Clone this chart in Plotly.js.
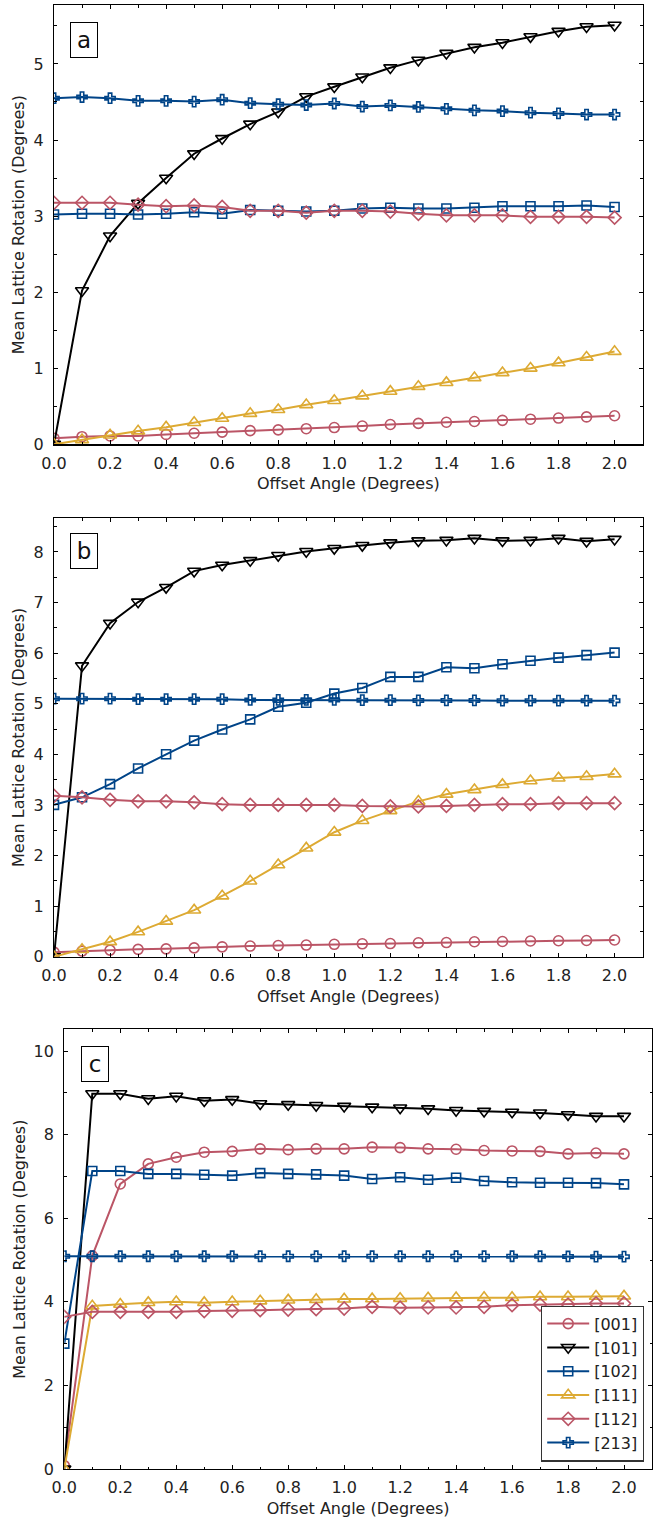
<!DOCTYPE html>
<html><head><meta charset="utf-8">
<script src="https://cdn.plot.ly/plotly-3.0.1.min.js"></script>
<style>html,body{margin:0;padding:0;background:#fff}</style>
</head><body><div id="chart" style="width:653px;height:1521px"></div>
<script>
const offsetAngle = [0.0,0.1,0.2,0.3,0.4,0.5,0.6,0.7,0.8,0.9,1.0,1.1,1.2,1.3,1.4,1.5,1.6,1.7,1.8,1.9,2.0];
const seriesNames = ['[001]','[101]','[102]','[111]','[112]','[213]'];
const panelLabels = ['a','b','c'];

// Panel a
const a001 = [0.08,0.10,0.11,0.11,0.13,0.145,0.16,0.18,0.19,0.205,0.22,0.24,0.26,0.275,0.29,0.30,0.315,0.33,0.345,0.36,0.375];
const a101 = [0,2.02,2.74,3.17,3.50,3.82,4.02,4.21,4.37,4.57,4.70,4.83,4.95,5.05,5.14,5.22,5.28,5.36,5.43,5.49,5.51];
const a102 = [3.02,3.03,3.03,3.02,3.03,3.05,3.03,3.08,3.07,3.06,3.07,3.10,3.11,3.10,3.10,3.11,3.13,3.13,3.13,3.14,3.12];
const a111 = [0,0.06,0.12,0.175,0.225,0.285,0.34,0.405,0.455,0.52,0.575,0.635,0.695,0.76,0.81,0.875,0.94,1.0,1.07,1.145,1.22];
const a112 = [3.175,3.175,3.175,3.15,3.13,3.14,3.12,3.07,3.07,3.045,3.07,3.07,3.06,3.03,3.01,3.01,3.01,2.99,2.99,2.99,2.98];
const a213 = [4.55,4.565,4.55,4.515,4.515,4.505,4.53,4.485,4.47,4.46,4.48,4.44,4.455,4.435,4.41,4.39,4.38,4.36,4.35,4.335,4.335];

// Panel b
const b001 = [0.09,0.11,0.13,0.145,0.155,0.175,0.195,0.21,0.22,0.23,0.245,0.255,0.26,0.275,0.28,0.295,0.30,0.31,0.315,0.32,0.33];
const b101 = [0,5.75,6.59,7.01,7.30,7.62,7.74,7.83,7.93,8.01,8.07,8.13,8.18,8.22,8.23,8.27,8.22,8.23,8.27,8.21,8.25];
const b102 = [3.0,3.15,3.41,3.72,4.0,4.27,4.49,4.69,4.94,5.02,5.20,5.31,5.53,5.53,5.72,5.70,5.78,5.85,5.91,5.96,6.01];
const b111 = [0,0.14,0.295,0.49,0.70,0.92,1.20,1.495,1.815,2.145,2.46,2.69,2.885,3.07,3.21,3.30,3.40,3.475,3.53,3.56,3.61];
const b112 = [3.18,3.15,3.10,3.07,3.07,3.05,3.015,3.0,3.0,3.0,3.0,2.98,2.97,2.97,2.98,3.0,3.015,3.015,3.035,3.035,3.035];
const b213 = [5.10,5.10,5.10,5.09,5.09,5.09,5.09,5.075,5.075,5.075,5.075,5.07,5.07,5.065,5.065,5.065,5.06,5.06,5.06,5.06,5.06];

// Panel c
const c001 = [0.08,5.10,6.82,7.30,7.46,7.58,7.60,7.66,7.64,7.66,7.66,7.70,7.69,7.66,7.65,7.62,7.61,7.60,7.54,7.56,7.54];
const c101 = [0,8.98,8.98,8.86,8.92,8.81,8.84,8.74,8.72,8.70,8.68,8.66,8.64,8.62,8.58,8.56,8.54,8.52,8.48,8.44,8.44];
const c102 = [3.0,7.13,7.13,7.06,7.06,7.04,7.02,7.08,7.06,7.05,7.02,6.94,6.98,6.92,6.97,6.89,6.86,6.85,6.85,6.84,6.81];
const c111 = [0,3.90,3.94,3.98,4.0,3.98,4.0,4.02,4.04,4.055,4.065,4.07,4.08,4.09,4.095,4.10,4.10,4.12,4.12,4.13,4.135];
const c112 = [3.64,3.76,3.76,3.76,3.76,3.78,3.785,3.80,3.815,3.825,3.84,3.88,3.86,3.865,3.865,3.88,3.92,3.935,3.935,3.96,3.96];
const c213 = [5.09,5.09,5.09,5.09,5.09,5.09,5.09,5.09,5.09,5.09,5.09,5.09,5.09,5.09,5.09,5.09,5.09,5.09,5.085,5.08,5.08];

const panels = [
  [a001,a101,a102,a111,a112,a213],
  [b001,b101,b102,b111,b112,b213],
  [c001,c101,c102,c111,c112,c213]
];

const colors = ['#BB5566','#000000','#004488','#DDAA33','#BB5566','#004488'];
const symbols = ['circle-open','triangle-down-open','square-open','triangle-up-open','diamond-open','cross-open'];
const msizes = [10,11.5,9,11.5,10,8.5];

const W = 653, H = 1521;
const FONT = 'DejaVu Sans, sans-serif';
// pixel boxes [left, right, top, bottom]
const boxes = [[54,642.6,5,444.3],[54,642.6,518,956.7],[64.3,652,1029.3,1469]];
const yRanges = [[0,5.775],[0,8.67],[0,10.52]];
const yDtick = [1,1,2];
const yMinor = [0.5,0.5,1];
const labelPos = [[0.107,5.31],[0.107,8.01],[0.108,9.70]];

const traces = [];
panels.forEach((p, pi) => {
  const sfx = pi === 0 ? '' : String(pi+1);
  p.forEach((ys, si) => {
    traces.push({
      x: offsetAngle, y: ys, type: 'scatter', mode: 'lines+markers',
      name: seriesNames[si], xaxis: 'x'+sfx, yaxis: 'y'+sfx,
      showlegend: pi === 2, legendgroup: 'g'+si,
      line: {color: colors[si], width: 2},
      marker: {symbol: symbols[si], size: msizes[si], color: colors[si], line: {color: colors[si], width: 1.6}},
      cliponaxis: true
    });
  });
});

const layout = {
  width: W, height: H,
  margin: {l:0, r:0, t:0, b:0},
  paper_bgcolor: '#fff', plot_bgcolor: '#fff',
  font: {family: FONT, size: 16, color: '#222'},
  showlegend: true,
  legend: {
    x: 541/W, y: 1 - 1305.5/H, xanchor: 'left', yanchor: 'top',
    bordercolor: '#333', borderwidth: 1.2, bgcolor: '#fff',
    font: {family: FONT, size: 16, color: '#222'},
    tracegroupgap: 0, itemwidth: 42
  },
  annotations: [],
};

boxes.forEach((b, i) => {
  const sfx = i === 0 ? '' : String(i+1);
  layout['xaxis'+sfx] = {
    domain: [b[0]/W, b[1]/W], anchor: 'y'+sfx,
    range: [0, 2.1], dtick: 0.2, tick0: 0, tickformat: '.1f',
    ticks: 'inside', ticklen: 4, tickwidth: 1, tickcolor: '#000',
    minor: {dtick: 0.1, tick0: 0, ticks: 'inside', ticklen: 2.5, tickcolor: '#000', showgrid: false},
    mirror: 'allticks', showline: true, linecolor: '#000', linewidth: 1.2,
    showgrid: false, zeroline: false, ticklabelstandoff: 4,
    tickfont: {family: FONT, size: 16, color: '#222'},
    title: {text: 'Offset Angle (Degrees)', font: {family: FONT, size: 16, color: '#222'}, standoff: 6}
  };
  layout['yaxis'+sfx] = {
    domain: [1 - b[3]/H, 1 - b[2]/H], anchor: 'x'+sfx,
    range: yRanges[i], dtick: yDtick[i], tick0: 0,
    ticks: 'inside', ticklen: 4, tickwidth: 1, tickcolor: '#000',
    minor: {dtick: yMinor[i], tick0: 0, ticks: 'inside', ticklen: 2.5, tickcolor: '#000', showgrid: false},
    mirror: 'allticks', showline: true, linecolor: '#000', linewidth: 1.2,
    showgrid: false, zeroline: false, ticklabelstandoff: 6,
    tickfont: {family: FONT, size: 16, color: '#222'},
    title: {text: 'Mean Lattice Rotation (Degrees)', font: {family: FONT, size: 16, color: '#222'}, standoff: 4}
  };
  layout.annotations.push({
    xref: 'x'+sfx, yref: 'y'+sfx, x: labelPos[i][0], y: labelPos[i][1],
    text: panelLabels[i], showarrow: false, width: 18, borderpad: 4,
    bordercolor: '#000', borderwidth: 1, bgcolor: '#fff',
    font: {family: FONT, size: 23, color: '#111'}
  });
});

Plotly.newPlot('chart', traces, layout, {staticPlot: true, displayModeBar: false});
</script>
</body></html>
